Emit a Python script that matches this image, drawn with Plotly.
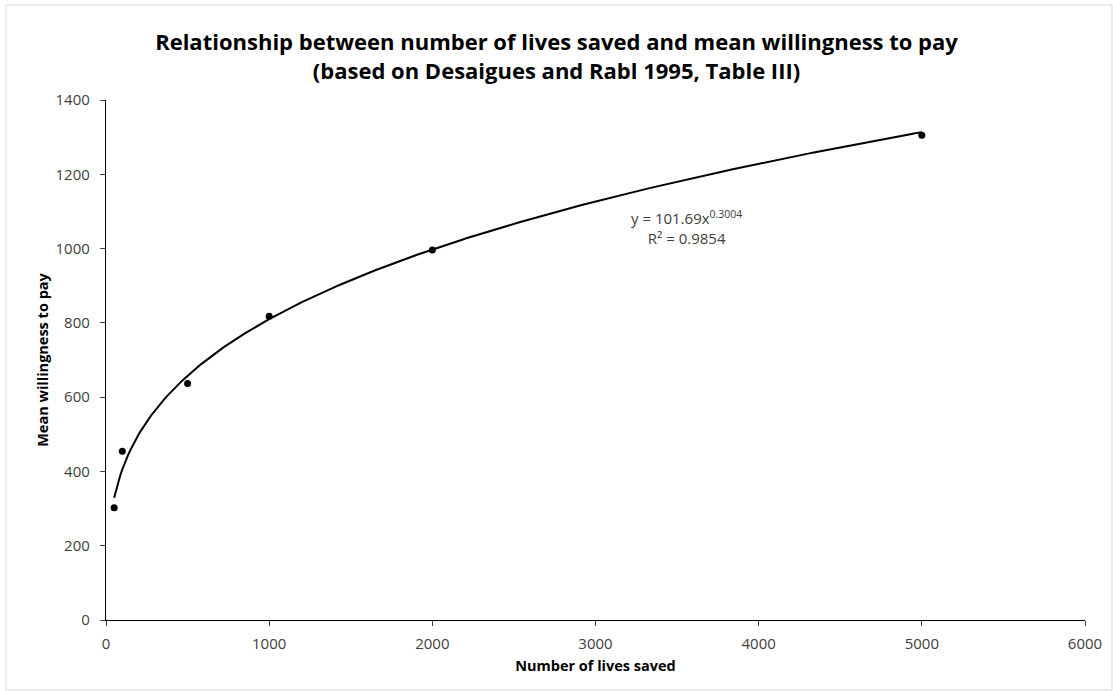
import numpy as np
import plotly.graph_objects as go

lives_saved = [50, 100, 500, 1000, 2000, 5000]
mean_wtp = [302, 454, 637, 818, 996, 1305]

# Fitted power trendline as printed on the chart: y = 101.69 x^0.3004
fit_a = 101.69
fit_b = 0.3004
fit_r2 = 0.9854

x_fit = np.linspace(min(lives_saved), max(lives_saved), 400)
y_fit = fit_a * x_fit ** fit_b

W, H = 1113, 691
L, R, T, B = 106, 28, 100, 71
pw, ph = W - L - R, H - T - B

def px(xp):
    return (xp - L) / pw

def py(yp):
    return (H - B - yp) / ph

fig = go.Figure()
fig.add_trace(go.Scatter(x=x_fit, y=y_fit, mode="lines",
                         line=dict(color="black", width=2), hoverinfo="skip",
                         showlegend=False))
fig.add_trace(go.Scatter(x=lives_saved, y=mean_wtp, mode="markers",
                         marker=dict(color="black", size=7), showlegend=False))

font_fam = "Open Sans, Liberation Sans, sans-serif"
fig.update_layout(
    width=W, height=H,
    margin=dict(l=L, r=R, t=T, b=B),
    paper_bgcolor="white", plot_bgcolor="white",
    font=dict(family=font_fam, color="#404040", size=14),
    title=dict(text="<b>Relationship between number of lives saved and mean willingness to pay<br>(based on Desaigues and Rabl 1995, Table III)</b>",
               x=0.5, xanchor="center", y=1 - 50 / H, yanchor="middle",
               font=dict(family=font_fam, size=22, color="black")),
    xaxis=dict(range=[0, 6000], dtick=1000, showgrid=False, zeroline=False,
               showline=True, linecolor="black", linewidth=1.3,
               ticks="outside", ticklen=5, tickcolor="#404040",
               tickfont=dict(size=15), ticklabelstandoff=5,
               title=dict(text="<b>Number of lives saved</b>", standoff=8,
                          font=dict(size=14.5, color="black"))),
    yaxis=dict(range=[0, 1400], dtick=200, showgrid=False, zeroline=False,
               showline=True, linecolor="black", linewidth=1.3,
               ticks="outside", ticklen=5, tickcolor="#404040",
               tickfont=dict(size=15), ticklabelstandoff=7,
               title=dict(text="<b>Mean willingness to pay</b>", standoff=3,
                          font=dict(size=14.5, color="black"))),
)

fig.add_annotation(xref="paper", yref="paper", x=px(686), y=py(227),
                   yanchor="middle",
                   text=f"y = {fit_a}x<sup>{fit_b}</sup><br>R² = {fit_r2}",
                   showarrow=False, align="center",
                   font=dict(size=15, color="#404040"))

fig.add_shape(type="rect", xref="paper", yref="paper",
              x0=px(6), x1=px(1112), y0=py(690), y1=py(5),
              line=dict(color="#d9d9d9", width=1), layer="below")

fig.write_html("out.html", config={"displayModeBar": False},
               post_script="document.body.style.margin='0';document.body.style.overflow='hidden';window.dispatchEvent(new Event('resize'));")
